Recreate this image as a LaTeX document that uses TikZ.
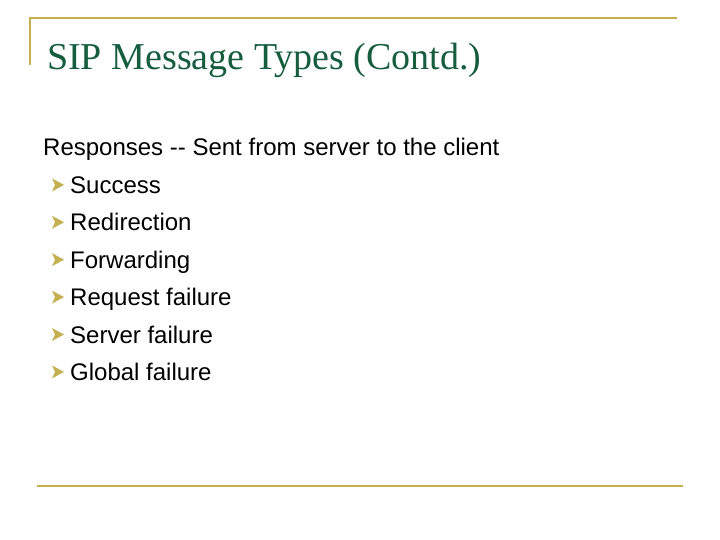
\documentclass[tikz,border=0pt]{standalone}
\usepackage{fontspec}
\setmainfont{Liberation Serif}
\newfontfamily\arialf{Liberation Sans}
\definecolor{gold}{RGB}{196,176,80}
\definecolor{titlegreen}{RGB}{22,92,62}
\begin{document}
\begin{tikzpicture}[x=1pt,y=-1pt,
  rule/.style={draw=gold,line width=2pt},
  body/.style={anchor=base west,inner sep=0pt,font=\arialf\fontsize{24}{28}\selectfont},
  bul/.style={fill=gold,draw=gold!70!black,line width=0.4pt}]
\useasboundingbox (0,0) rectangle (720,540);
\coordinate (tl) at (30,18); \coordinate (tr) at (677,18); \coordinate (tb) at (30,65);
\draw[rule] (tb) -- (tl) -- (tr);
\coordinate (bl) at (37,486); \coordinate (br) at (683,486);
\draw[rule] (bl) -- (br);
\node[anchor=base west,inner sep=0pt,text=titlegreen,font=\fontsize{38}{44}\selectfont] (title) at (47,70) {SIP Message Types (Contd.)};
\node[body] (head) at (43,156) {Responses -- Sent from server to the client};
\foreach \t [count=\i] in {Success,Redirection,Forwarding,Request failure,Server failure,Global failure}{
  \pgfmathsetmacro{\yy}{156+37.4*\i}
  \node[body] (item\i) at (70,\yy) {\t};
  \fill[gold] (52,\yy-15) -- (64,\yy-8.5) -- (52,\yy-2) -- (55,\yy-8.5) -- cycle;
}
\end{tikzpicture}
\end{document}
